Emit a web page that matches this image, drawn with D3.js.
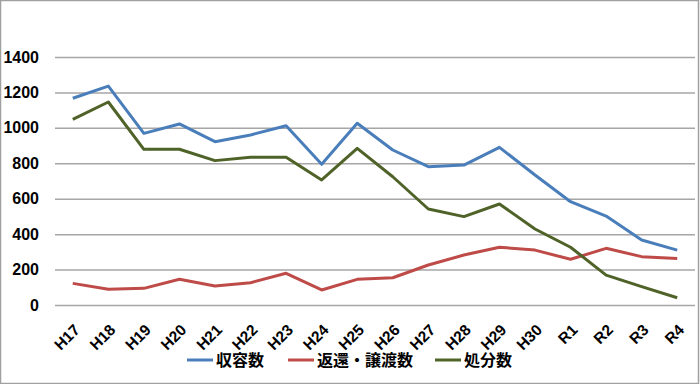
<!DOCTYPE html>
<html><head><meta charset="utf-8">
<script src="https://cdn.jsdelivr.net/npm/d3@7"></script>
<style>
html,body{margin:0;padding:0;background:#fff;}
svg{display:block;}
</style></head>
<body>
<svg id="chart" width="700" height="384"></svg>
<script>
const categories = ["H17","H18","H19","H20","H21","H22","H23","H24","H25","H26","H27","H28","H29","H30","R1","R2","R3","R4"];
const shuuyou = [1167,1236,969,1022,922,960,1012,794,1026,875,781,790,890,734,583,502,367,310];
const henkan = [122,89,94,145,107,126,179,85,145,154,226,282,326,310,258,320,273,263];
const shobun = [1048,1146,879,879,815,834,834,706,884,724,542,499,570,429,326,169,104,41];
const yTicks = [0,200,400,600,800,1000,1200,1400];
const seriesNames = ["収容数","返還・譲渡数","処分数"];
const seriesColors = ["#4a7ebb","#be4b48","#4f6228"];

const svg = d3.select("#chart");
const W = 700, H = 384;
svg.append("rect").attr("x",0.5).attr("y",0.5).attr("width",W-2).attr("height",H-1)
  .attr("fill","#fff").attr("stroke","#a0a0a0").attr("stroke-width",1.5);

const x = d3.scaleBand().domain(categories).range([55,695]);
const xc = d => x(d) + x.bandwidth()/2;
const y = d3.scaleLinear().domain([0,1400]).range([305,57]);

// gridlines + y labels
const yAxis = d3.axisLeft(y).tickValues(yTicks).tickSize(-640).tickPadding(15).tickFormat(d3.format("d"));
const ga = svg.append("g").attr("transform","translate(55,0)").call(yAxis);
ga.select(".domain").remove();
ga.selectAll(".tick line").attr("stroke","#a6a6a6").attr("stroke-width",1.5);
ga.selectAll(".tick text").attr("font-family","'Liberation Sans', Arial, sans-serif")
  .attr("font-weight","bold").attr("font-size",16).attr("fill","#000").attr("x",-16);

// x labels
const xAxis = d3.axisBottom(x).tickSize(0).tickPadding(0);
const gx = svg.append("g").attr("transform","translate(0,305)").call(xAxis);
gx.select(".domain").remove();
gx.selectAll(".tick text")
  .attr("font-family","'Liberation Sans', Arial, sans-serif")
  .attr("font-weight","bold").attr("font-size",15.5).attr("fill","#000")
  .attr("text-anchor","end").attr("dy",null).attr("y",null)
  .attr("transform","translate(8,26) rotate(-45)");

const line = d3.line().x((d,i)=>xc(categories[i])).y(d=>y(d));
[shuuyou, henkan, shobun].forEach((s,i)=>{
  svg.append("path").datum(s).attr("d",line).attr("fill","none")
    .attr("stroke",seriesColors[i]).attr("stroke-width",3).attr("stroke-linejoin","round");
});

// legend
const legendX = [187, 288, 435];
const lg = svg.append("g");
seriesNames.forEach((n,i)=>{
  lg.append("line").attr("x1",legendX[i]).attr("x2",legendX[i]+26).attr("y1",360).attr("y2",360)
    .attr("stroke",seriesColors[i]).attr("stroke-width",3);
  lg.append("text").attr("x",legendX[i]+29).attr("y",366)
    .attr("font-family","'Noto Sans CJK JP', sans-serif").attr("font-weight","bold")
    .attr("font-size",16).attr("fill","#000").text(n);
});
</script>
</body></html>
